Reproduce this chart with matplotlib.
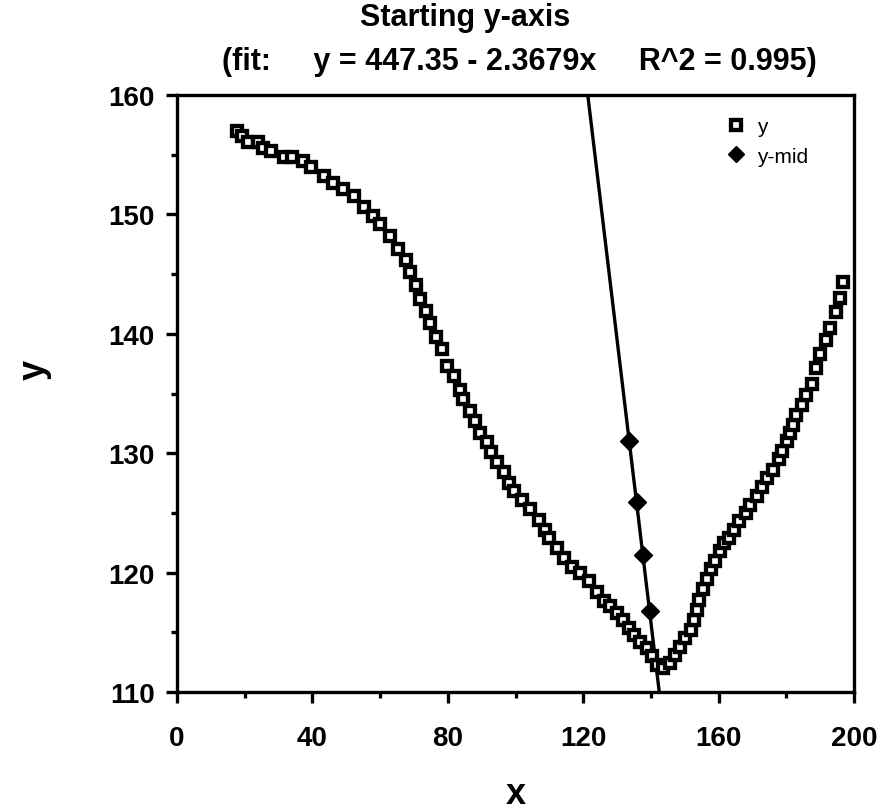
import numpy as np
import matplotlib
matplotlib.use("Agg")
import matplotlib.pyplot as plt
from matplotlib.ticker import MultipleLocator

# ---- data ----
y_x = [17.8, 19.3, 21.0, 24.0, 25.3, 27.8, 31.5, 34.1, 37.1, 39.5, 43.5, 46.2, 48.9,
       52.3, 55.3, 57.9, 59.9, 62.8, 65.3, 67.6, 68.9, 70.5, 71.8, 73.5, 74.7, 76.4,
       78.4, 79.9, 81.8, 83.5, 84.4, 86.7, 87.9, 89.5, 91.5, 92.8, 94.5, 96.5, 98.0,
       99.5, 101.9, 104.2, 106.8, 108.8, 109.8, 112.3, 114.3, 116.7, 119.1, 121.6,
       124.0, 126.0, 128.0, 130.0, 131.9, 133.4, 134.9, 136.9, 138.9, 140.3, 141.7,
       143.7, 145.7, 147.2, 148.7, 150.2, 151.7, 152.7, 153.6, 154.3, 155.5, 156.5,
       157.8, 159.0, 160.3, 161.6, 163.0, 164.5, 166.0, 168.0, 169.3, 171.3, 172.8,
       174.2, 176.0, 177.7, 178.6, 180.1, 181.1, 182.0, 183.0, 184.5, 185.8, 187.6,
       188.9, 190.1, 191.7, 192.8, 194.6, 196.0, 196.8]
y_y = [157.0, 156.6, 156.1, 156.1, 155.6, 155.3, 154.8, 154.8, 154.5, 154.0, 153.2, 152.6, 152.1,
       151.5, 150.6, 149.9, 149.2, 148.2, 147.1, 146.2, 145.2, 144.1, 142.9, 141.9, 140.9, 139.7,
       138.7, 137.3, 136.5, 135.3, 134.5, 133.5, 132.7, 131.7, 130.9, 130.1, 129.3, 128.4, 127.5,
       126.8, 126.1, 125.3, 124.4, 123.6, 122.9, 122.1, 121.2, 120.5, 120.0, 119.3,
       118.4, 117.6, 117.2, 116.6, 116.0, 115.4, 114.8, 114.2, 113.7, 113.0, 112.3,
       112.0, 112.4, 113.1, 113.8, 114.5, 115.2, 116.0, 116.9, 117.7, 118.6, 119.5,
       120.3, 121.0, 121.8, 122.5, 122.9, 123.6, 124.3, 125.0, 125.7, 126.4, 127.2,
       127.9, 128.6, 129.5, 130.2, 131.0, 131.7, 132.4, 133.2, 134.0, 134.9, 135.8,
       137.1, 138.3, 139.5, 140.5, 141.8, 143.0, 144.3]

mid_x = [133.6, 135.8, 137.6, 139.6]
mid_y = [131.0, 125.9, 121.5, 116.8]

fit_intercept = 447.35
fit_slope = -2.3679

title = "Starting y-axis"
subtitle = "(fit:     y = 447.35 - 2.3679x     R^2 = 0.995)"

FONT = ['Liberation Sans', 'DejaVu Sans']
plt.rcParams['font.family'] = FONT

W, H = 886, 812
L, R, T, B = 177, 854, 96, 693
fig = plt.figure(figsize=(W/100, H/100), dpi=100)
ax = fig.add_axes([L/W, 1-B/H, (R-L)/W, (B-T)/H])

# fit line
lx = np.linspace(115, 150, 50)
ax.plot(lx, fit_intercept + fit_slope*lx, color='black', lw=2.4, zorder=2)

ax.plot(y_x, y_y, linestyle='none', marker='s', markersize=7.4,
        markerfacecolor='white', markeredgecolor='black', markeredgewidth=3.1,
        label='y', zorder=3)
ax.plot(mid_x, mid_y, linestyle='none', marker='D', markersize=9,
        markerfacecolor='black', markeredgecolor='black', label='y-mid', zorder=4)

ax.set_xlim(0, 200)
ax.set_ylim(110, 160)
ax.xaxis.set_major_locator(MultipleLocator(40))
ax.xaxis.set_minor_locator(MultipleLocator(20))
ax.yaxis.set_major_locator(MultipleLocator(10))
ax.yaxis.set_minor_locator(MultipleLocator(5))
ax.tick_params(which='both', direction='out', width=2.4, color='black')
ax.tick_params(which='major', length=8, labelsize=20)
ax.tick_params(which='minor', length=4.5)
ax.tick_params(axis='x', which='major', pad=16)
ax.tick_params(axis='y', which='major', pad=8)
for lab in ax.get_xticklabels() + ax.get_yticklabels():
    lab.set_fontweight('bold')
for s in ax.spines.values():
    s.set_linewidth(2.4)

fig.text((L+R)/2/W, 1-795/H, 'x', ha='center', va='center', fontsize=26, fontweight='bold')
fig.text(34/W, 1-370/H, 'y', ha='center', va='center', fontsize=26,
         fontweight='bold', rotation=90)

fig.text(465/W, 1-18/H, title, ha='center', va='center', fontsize=22, fontweight='bold')
fig.text(519/W, 1-62/H, subtitle, ha='center', va='center', fontsize=22, fontweight='bold')

leg = ax.legend(loc='upper right', frameon=False, fontsize=15, handletextpad=0.5,
                bbox_to_anchor=(1-38/(R-L), 1-14/(B-T)), borderaxespad=0.0,
                labelspacing=0.5, markerscale=0.9, handlelength=1.0)

fig.savefig('out.png', dpi=100)
